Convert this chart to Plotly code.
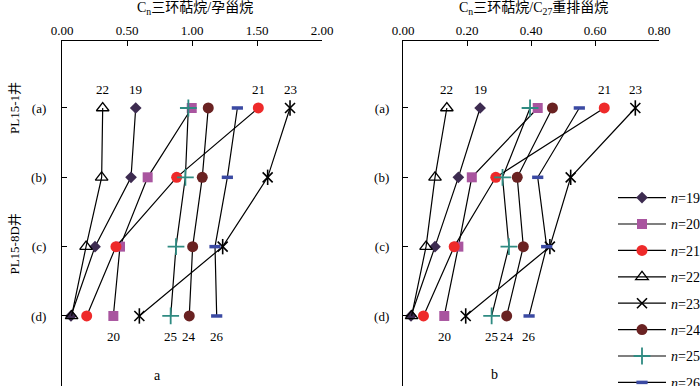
import plotly.graph_objects as go

levels = [1, 2, 3, 4]
level_labels = ["(a)", "(b)", "(c)", "(d)"]
series_n = [19, 20, 21, 22, 23, 24, 25, 26]

# Cn tricyclic terpane / pregnane (panel a), values at levels (a),(b),(c),(d)
ratio_a = {
    19: [0.567, 0.531, 0.254, 0.069],
    20: [0.998, 0.659, 0.446, 0.395],
    21: [1.510, 0.882, 0.415, 0.190],
    22: [0.313, 0.305, 0.185, 0.074],
    23: [1.754, 1.582, 1.236, 0.595],
    24: [1.125, 1.079, 1.005, 0.979],
    25: [0.972, 0.949, 0.877, 0.836],
    26: [1.349, 1.272, 1.177, 1.190],
}
# Cn tricyclic terpane / C27 diasterane (panel b)
ratio_b = {
    19: [0.241, 0.173, 0.100, 0.025],
    20: [0.421, 0.215, 0.173, 0.129],
    21: [0.629, 0.290, 0.160, 0.064],
    22: [0.137, 0.100, 0.072, 0.027],
    23: [0.726, 0.524, 0.459, 0.196],
    24: [0.467, 0.357, 0.376, 0.324],
    25: [0.397, 0.311, 0.331, 0.277],
    26: [0.551, 0.421, 0.449, 0.394],
}
top_labels = [22, 19, 21, 23]
bottom_labels = [20, 25, 24, 26]
xticks_a = [0, 0.5, 1.0, 1.5, 2.0]
xticks_b = [0, 0.2, 0.4, 0.6, 0.8]

styles = {
    19: dict(symbol="diamond", color="#3d2b50", size=9, lw=0),
    20: dict(symbol="square", color="#a9559f", size=10, lw=0),
    21: dict(symbol="circle", color="#ee2a2a", size=11, lw=0),
    22: dict(symbol="triangle-up-open", color="black", size=11, lw=1.3),
    23: dict(symbol="x-thin-open", color="black", size=10, lw=1.6),
    24: dict(symbol="circle", color="#6a2222", size=11, lw=0),
    25: dict(symbol="cross-thin-open", color="#2f8b82", size=12, lw=1.8),
    26: dict(symbol="line-ew-open", color="#3b4aa3", size=8, lw=3.5),
}

SERIF = "Liberation Serif, Noto Sans CJK SC"
fig = go.Figure()

for panel, data in (("1", ratio_a), ("2", ratio_b)):
    xa = "x" if panel == "1" else "x2"
    ya = "y" if panel == "1" else "y2"
    for n in series_n:
        s = styles[n]
        fig.add_trace(go.Scatter(
            x=data[n], y=levels, xaxis=xa, yaxis=ya,
            mode="lines+markers",
            line=dict(color="black", width=1.2),
            marker=dict(symbol=s["symbol"], color=s["color"], size=s["size"],
                        line=dict(color=s["color"], width=s["lw"])),
            name=f"<i>n</i>={n}", legendgroup=str(n),
            showlegend=(panel == "2"),
        ))
        if n == 23:
            fig.add_trace(go.Scatter(
                x=data[n], y=levels, xaxis=xa, yaxis=ya, mode="markers",
                marker=dict(symbol="line-ns-open", size=11, color="black",
                            line=dict(color="black", width=1.6)),
                showlegend=False, hoverinfo="skip",
            ))
    for n in top_labels:
        fig.add_annotation(x=data[n][0], y=levels[0] - 0.27, xref=xa, yref=ya,
                           text=str(n), showarrow=False, xanchor="center",
                           font=dict(family=SERIF, size=13, color="black"))
    for n in bottom_labels:
        fig.add_annotation(x=data[n][3], y=levels[3] + 0.3, xref=xa, yref=ya,
                           text=str(n), showarrow=False, xanchor="center",
                           font=dict(family=SERIF, size=13, color="black"))

axis_common = dict(
    showline=True, linecolor="black", linewidth=1.3, showgrid=False, zeroline=False,
    ticks="inside", ticklen=5, tickcolor="black", tickwidth=1.3,
    tickfont=dict(family=SERIF, size=13, color="black"),
)
fig.update_layout(
    xaxis=dict(domain=[0, 260 / 597], range=[0, 2.0], side="top", anchor="y",
               tickvals=xticks_a, ticktext=[f"{v:.2f}" for v in xticks_a], **axis_common),
    xaxis2=dict(domain=[341 / 597, 1], range=[0, 0.8], side="top", anchor="y2",
                tickvals=xticks_b, ticktext=[f"{v:.2f}" for v in xticks_b], **axis_common),
    yaxis=dict(range=[5.01, 0.034], anchor="x", tickvals=levels + [5],
               ticktext=level_labels + [""], ticklabelstandoff=12, **axis_common),
    yaxis2=dict(range=[5.01, 0.034], anchor="x2", tickvals=levels + [5],
                ticktext=level_labels + [""], ticklabelstandoff=10, **axis_common),
    width=700, height=386,
    margin=dict(l=62, r=41, t=41, b=0, autoexpand=False),
    paper_bgcolor="white", plot_bgcolor="white",
    legend=dict(x=(613 - 62) / 597, y=(386 - 182) / 345, xanchor="left", yanchor="top",
                font=dict(family=SERIF, size=14, color="black"),
                itemwidth=48, tracegroupgap=5.2, bgcolor="rgba(0,0,0,0)"),
    showlegend=True,
)

fig.add_annotation(x=(195 - 62) / 597, y=1, xref="paper", yref="paper", yshift=22,
                   text="C<sub>n</sub>三环萜烷/孕甾烷", showarrow=False,
                   xanchor="center", yanchor="bottom",
                   font=dict(family=SERIF, size=14, color="black"))
fig.add_annotation(x=(533 - 62) / 597, y=1, xref="paper", yref="paper", yshift=22,
                   text="C<sub>n</sub>三环萜烷/C<sub>27</sub>重排甾烷", showarrow=False,
                   xanchor="center", yanchor="bottom",
                   font=dict(family=SERIF, size=14, color="black"))
fig.add_annotation(x=(15 - 62) / 597, y=1.0, xref="paper", yref="y",
                   text="PL15-1井", showarrow=False, textangle=-90,
                   xanchor="center", yanchor="middle",
                   font=dict(family=SERIF, size=13, color="black"))
fig.add_annotation(x=(15 - 62) / 597, y=2.97, xref="paper", yref="y",
                   text="PL15-8D井", showarrow=False, textangle=-90,
                   xanchor="center", yanchor="middle",
                   font=dict(family=SERIF, size=13, color="black"))
fig.add_annotation(x=(157 - 62) / 597, y=(386 - 375) / 345, xref="paper", yref="paper",
                   text="a", showarrow=False, xanchor="center", yanchor="middle",
                   font=dict(family=SERIF, size=14, color="black"))
fig.add_annotation(x=(494 - 62) / 597, y=(386 - 374) / 345, xref="paper", yref="paper",
                   text="b", showarrow=False, xanchor="center", yanchor="middle",
                   font=dict(family=SERIF, size=14, color="black"))

fig.write_html("out.html", config={"displayModeBar": False},
               post_script="document.body.style.margin='0px';")
